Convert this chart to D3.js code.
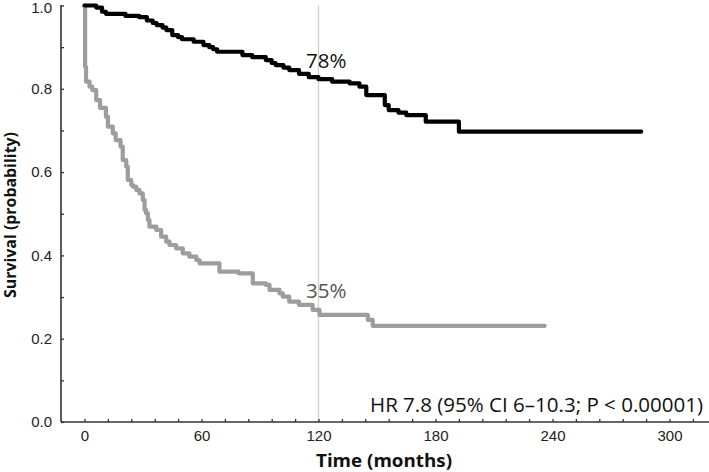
<!DOCTYPE html>
<html>
<head>
<meta charset="utf-8">
<script src="https://cdn.jsdelivr.net/npm/d3@7"></script>
<style>
  html, body { margin: 0; padding: 0; background: #fff; }
  svg { display: block; }
</style>
</head>
<body>
<svg id="chart" width="709" height="472"></svg>
<script>
// ---- data (time in months, survival probability after the step) ----
const blackTimes = [0, 6, 9, 11, 21, 28, 32, 35, 37, 40, 42, 45, 48, 50, 56, 61, 64, 66, 68, 81, 86, 93, 96, 98, 102, 105, 110, 115, 120, 127, 136, 141, 144.5, 154, 156, 161, 165, 175, 192, 285.5];
const blackSurv  = [1.0, 0.995, 0.985, 0.980, 0.975, 0.972, 0.964, 0.958, 0.953, 0.947, 0.941, 0.929, 0.924, 0.919, 0.913, 0.905, 0.900, 0.895, 0.889, 0.881, 0.876, 0.869, 0.862, 0.857, 0.851, 0.845, 0.836, 0.828, 0.823, 0.817, 0.813, 0.805, 0.785, 0.761, 0.749, 0.743, 0.737, 0.721, 0.697, 0.697];

const grayTimes = [0, 0.3, 0.8, 2.6, 4, 6, 8, 11, 12, 14.5, 16, 18.5, 19.6, 21.4, 22.2, 24, 24.8, 26.5, 28.2, 29.9, 30.8, 31.6, 32.5, 33.3, 36.8, 39.3, 41.9, 43.6, 47, 50.4, 53.8, 57.3, 59, 69.2, 79, 86.3, 93, 94.9, 100, 101.7, 105, 110, 117, 120.5, 145.3, 147.8, 236];
const graySurv  = [1.0, 0.853, 0.817, 0.805, 0.797, 0.773, 0.754, 0.733, 0.709, 0.693, 0.677, 0.661, 0.629, 0.613, 0.581, 0.569, 0.565, 0.557, 0.549, 0.533, 0.509, 0.501, 0.485, 0.469, 0.461, 0.445, 0.433, 0.425, 0.417, 0.405, 0.397, 0.389, 0.381, 0.361, 0.357, 0.333, 0.329, 0.317, 0.309, 0.301, 0.289, 0.281, 0.269, 0.257, 0.245, 0.231, 0.231];

const xTickValues = [0, 60, 120, 180, 240, 300];
const yTickValues = [0.0, 0.2, 0.4, 0.6, 0.8, 1.0];
const refTime = 120;
const labelBlack = "78%";
const labelGray = "35%";
const hrText = "HR 7.8 (95% CI 6\u201310.3; P < 0.00001)";
const xTitle = "Time (months)";
const yTitle = "Survival (probability)";

// ---- layout ----
const svg = d3.select("#chart");
const axisX0 = 61, axisX1 = 709, axisY = 422, axisTop = 5;
const x = d3.scaleLinear().domain([0, 300]).range([84.5, 669.5]);
const y = d3.scaleLinear().domain([0, 1]).range([422, 5.5]);

// reference line at 120 months
svg.append("line")
  .attr("x1", x(refTime)).attr("x2", x(refTime))
  .attr("y1", axisTop).attr("y2", axisY)
  .attr("stroke", "#cfcfcf").attr("stroke-width", 1.2);

// x axis
const minorX = d3.range(0, 313, 12);
const gx = svg.append("g").attr("transform", `translate(0,${axisY})`)
  .call(d3.axisBottom(x).tickValues(minorX).tickSizeInner(-3).tickSizeOuter(0).tickPadding(8.5)
    .tickFormat(d => xTickValues.includes(d) ? d : ""));
gx.select(".domain").remove();
gx.selectAll(".tick line").attr("stroke", "#333").attr("stroke-width", 1.3);
gx.selectAll(".tick text").attr("font-family", "'Liberation Sans', Arial, sans-serif")
  .attr("font-size", 15).attr("fill", "#222");
svg.append("line").attr("x1", axisX0).attr("x2", axisX1).attr("y1", axisY).attr("y2", axisY)
  .attr("stroke", "#333").attr("stroke-width", 1.6);

// y axis
const minorY = d3.range(0, 11).map(i => i / 10);
const gy = svg.append("g").attr("transform", `translate(${axisX0},0)`)
  .call(d3.axisLeft(y).tickValues(minorY).tickSizeInner(-3).tickSizeOuter(0).tickPadding(9)
    .tickFormat(d => yTickValues.some(v => Math.abs(v - d) < 1e-9) ? d3.format(".1f")(d) : ""));
gy.select(".domain").remove();
gy.selectAll(".tick line").attr("stroke", "#333").attr("stroke-width", 1.3);
gy.selectAll(".tick text").attr("font-family", "'Liberation Sans', Arial, sans-serif")
  .attr("font-size", 15).attr("fill", "#222");
gy.selectAll(".tick text").filter(d => d === 1).attr("dy", "0.45em");
svg.append("line").attr("x1", axisX0).attr("x2", axisX0).attr("y1", axisTop).attr("y2", axisY)
  .attr("stroke", "#333").attr("stroke-width", 1.6);

// curves
const line = d3.line().x(d => x(d[0])).y(d => y(d[1])).curve(d3.curveStepAfter);
const grayData = grayTimes.map((t, i) => [t, graySurv[i]]);
const blackData = blackTimes.map((t, i) => [t, blackSurv[i]]);
svg.append("path").datum(grayData).attr("d", line)
  .attr("fill", "none").attr("stroke", "#9d9d9d").attr("stroke-width", 4.2)
  .attr("stroke-linejoin", "round").attr("stroke-linecap", "round");
svg.append("path").datum(blackData).attr("d", line)
  .attr("fill", "none").attr("stroke", "#000").attr("stroke-width", 4.2)
  .attr("stroke-linejoin", "round").attr("stroke-linecap", "round");

// annotations
const fontMain = "'Open Sans', 'Noto Sans', sans-serif";
svg.append("text").attr("x", 306).attr("y", 68).text(labelBlack)
  .attr("font-family", fontMain).attr("font-size", 20.5).attr("fill", "#111");
svg.append("text").attr("x", 306).attr("y", 298).text(labelGray)
  .attr("font-family", fontMain).attr("font-size", 20.5).attr("fill", "#555");
svg.append("text").attr("x", 370).attr("y", 412).text(hrText)
  .attr("font-family", fontMain).attr("font-size", 20.5).attr("fill", "#111")
  .attr("textLength", 333).attr("lengthAdjust", "spacingAndGlyphs");

// axis titles
svg.append("text").attr("x", 316).attr("y", 467).text(xTitle)
  .attr("font-family", fontMain).attr("font-weight", "bold").attr("font-size", 17).attr("fill", "#111")
  .attr("textLength", 136).attr("lengthAdjust", "spacingAndGlyphs");
svg.append("text").attr("transform", "translate(16,298) rotate(-90)").text(yTitle)
  .attr("font-family", fontMain).attr("font-weight", "bold").attr("font-size", 16).attr("fill", "#111")
  .attr("textLength", 166).attr("lengthAdjust", "spacingAndGlyphs");
</script>
</body>
</html>
